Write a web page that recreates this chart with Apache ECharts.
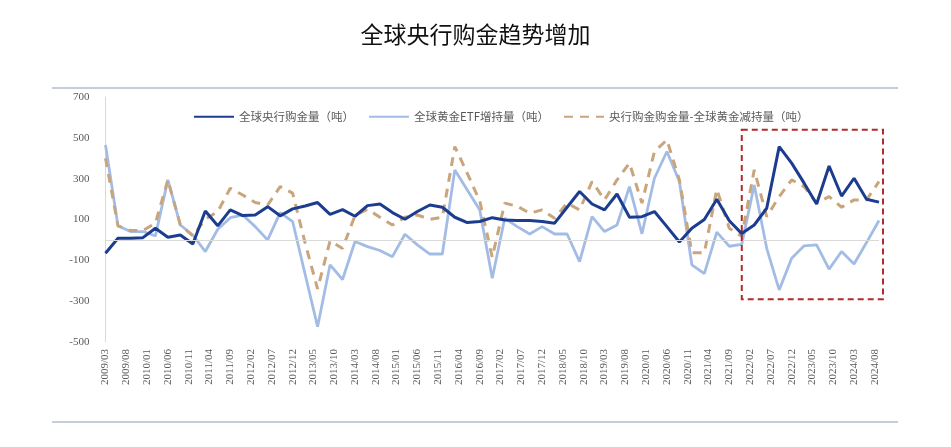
<!DOCTYPE html>
<html>
<head>
<meta charset="utf-8">
<script src="https://cdn.jsdelivr.net/npm/echarts@6/dist/echarts.min.js"></script>
<style>
html,body{margin:0;padding:0;background:#fff;}
#main{width:951px;height:447px;}
</style>
</head>
<body>
<div id="main"></div>
<script>
// Quarterly values (tonnes), 2009Q1 (2009/03) ... 2024Q3 (2024/09)
const cbPurchases = [-65,8,8,11,57,13,24,-20,142,69,147,119,122,163,118,152,166,183,125,148,116,168,176,134,101,139,171,160,111,85,90,109,98,95,95,90,82,160,237,176,147,225,111,114,139,65,-10,57,100,199,94,31,73,155,457,376,278,176,362,215,302,199,185];
const etfChange = [465,69,41,41,20,294,73,24,-57,52,109,122,65,0,134,90,-168,-425,-122,-194,-8,-33,-52,-82,28,-24,-69,-69,343,245,147,-188,106,65,29,65,29,29,-106,114,41,73,261,30,302,433,286,-122,-165,38,-31,-22,269,-41,-245,-90,-29,-24,-143,-57,-118,-13,95];
const netDemand = [400,69,46,46,82,294,73,20,101,139,253,220,183,171,261,229,-15,-240,-5,-42,120,150,111,73,111,122,101,111,457,326,190,-85,180,165,131,147,106,180,147,286,196,294,376,180,433,490,294,-63,-63,248,57,18,343,114,212,294,261,180,212,160,196,196,286];

const seriesNames = ['全球央行购金量（吨）','全球黄金ETF增持量（吨）','央行购金购金量-全球黄金减持量（吨）'];
const yTicks = {min:-500, max:700, interval:200};

// month categories 2009/03 .. 2024/09 (axis labels every 5 months)
const months = [];
for (let y = 2009, m = 3; !(y === 2024 && m > 9); ) {
  months.push(y + '/' + String(m).padStart(2,'0'));
  m++; if (m > 12) { m = 1; y++; }
}
// quarter-end dates of the data points
const quarters = [];
for (let y = 2009; y <= 2024; y++) {
  for (const m of [3,6,9,12]) {
    if (y === 2024 && m > 9) break;
    quarters.push(y + '/' + String(m).padStart(2,'0'));
  }
}
const pair = arr => quarters.map((q,i) => [q, arr[i]]);

const chart = echarts.init(document.getElementById('main'));
const option = {
  animation:false,
  backgroundColor:'#fff',
  title:{text:'全球央行购金趋势增加', left:'center', top:18,
    textStyle:{fontSize:23, fontWeight:'normal', color:'#111', fontFamily:'Noto Sans CJK SC'}},
  legend:{
    left:188, top:106, itemWidth:40, itemHeight:10, itemGap:14,
    itemStyle:{opacity:0},
    textStyle:{fontSize:11.5, color:'#595959', fontFamily:'Noto Sans CJK SC'},
    data:seriesNames
  },
  grid:{left:105.5, right:72, top:97, bottom:105, containLabel:false},
  xAxis:{
    type:'category', data:months, boundaryGap:false,
    axisLine:{show:false}, axisTick:{show:false}, splitLine:{show:false},
    axisLabel:{interval:4, rotate:90, margin:7, fontSize:11, color:'#595959', fontFamily:'Liberation Serif'}
  },
  yAxis:{
    type:'value', min:yTicks.min, max:yTicks.max, interval:yTicks.interval,
    axisLine:{show:true, lineStyle:{color:'#d9d9d9', width:1}}, axisTick:{show:false},
    splitLine:{show:false},
    axisLabel:{margin:16, fontSize:11, color:'#595959', fontFamily:'Liberation Serif'}
  },
  series:[
    {name:seriesNames[0], type:'line', data:pair(cbPurchases), symbol:'none', z:4,
      lineStyle:{color:'#1c3d8f', width:3}, itemStyle:{color:'#1c3d8f'},
      markLine:{silent:true, symbol:'none', label:{show:false},
        lineStyle:{color:'#d9d9d9', width:1, type:'solid'}, data:[{yAxis:0}]}},
    {name:seriesNames[1], type:'line', data:pair(etfChange), symbol:'none', z:2,
      lineStyle:{color:'#a3bce6', width:2.8}, itemStyle:{color:'#a3bce6'}},
    {name:seriesNames[2], type:'line', data:pair(netDemand), symbol:'none', z:3,
      lineStyle:{color:'#c9a57c', width:3, type:[9,7]}, itemStyle:{color:'#c9a57c'}}
  ]
};
chart.setOption(option);

// decorations: separator rules and highlighted recent-period box
const xL = chart.convertToPixel({xAxisIndex:0}, '2021/12');
const xR = chart.convertToPixel({xAxisIndex:0}, '2024/09') + 4;
const yT = chart.convertToPixel({yAxisIndex:0}, 540);
const yB = chart.convertToPixel({yAxisIndex:0}, -290);
chart.setOption({
  graphic:[
    {type:'line', shape:{x1:52, y1:88, x2:898, y2:88}, style:{stroke:'#8e9bb5', lineWidth:1.2}},
    {type:'line', shape:{x1:52, y1:422, x2:898, y2:422}, style:{stroke:'#8e9bb5', lineWidth:1.2}},
    {type:'rect', shape:{x:xL, y:yT, width:xR-xL, height:yB-yT},
      style:{fill:'none', stroke:'#b22a2a', lineWidth:2, lineDash:[6,4]}, z:10}
  ]
});
</script>
</body>
</html>
